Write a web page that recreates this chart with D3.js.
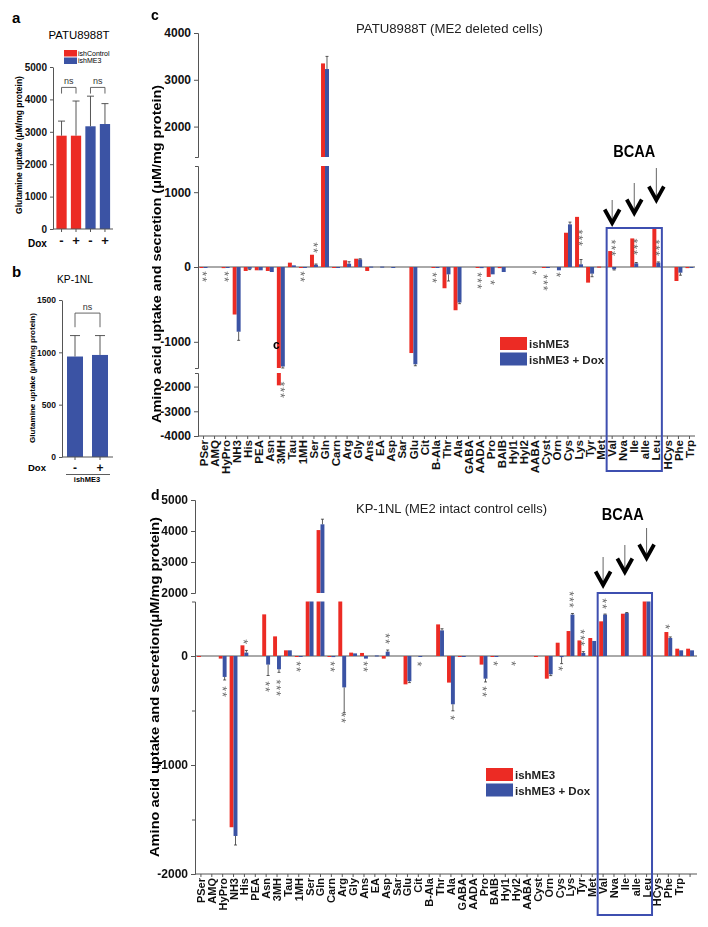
<!DOCTYPE html>
<html>
<head>
<meta charset="utf-8">
<script src="https://cdn.jsdelivr.net/npm/d3@7"></script>
<style>
body { margin: 0; background: #fff; }
svg text { font-family: "Liberation Sans", Arial, sans-serif; }
</style>
</head>
<body>
<svg id="fig" width="708" height="927"></svg>
<script>
// ---- panel a : glutamine uptake PATU8988T
var aGroups = ["ishControl", "ishControl", "ishME3", "ishME3"];
var aDox = ["-", "+", "-", "+"];
var aValues = [2880, 2880, 3170, 3240];
var aErrors = [450, 1070, 930, 630];
var aTicks = [0, 1000, 2000, 3000, 4000, 5000];

// ---- panel b : glutamine uptake KP-1NL
var bDox = ["-", "+"];
var bValues = [960, 975];
var bErrors = [200, 185];
var bTicks = [0, 500, 1000, 1500];

// ---- panels c / d : amino acids
var aminoAcids = ["PSer","AMQ","HyPro","NH3","His","PEA","Asn","3MH","Tau","1MH","Ser","Gln","Carn","Arg","Gly","Ans","EA","Asp","Sar","Glu","Cit","B-Ala","Thr","Ala","GABA","AADA","Pro","BAIB","Hyl1","Hyl2","AABA","Cyst","Orn","Cys","Lys","Tyr","Met","Val","Nva","Ile","alle","Leu","HCys","Phe","Trp"];

var cME3    = [-10,0,-15,-635,-53,-44,-53,-1950,58,-10,164,3350,-5,89,111,-53,0,0,0,-1150,0,-5,-284,-578,0,-10,-133,-15,0,0,0,-10,0,458,670,-209,5,213,0,382,0,520,0,-187,-15];
var cME3Dox = [-5,0,-10,-865,-25,-44,-67,-1330,22,-5,30,3230,-5,44,102,5,5,-5,0,-1300,0,-10,-98,-475,0,-15,-98,-67,0,0,0,-10,-44,570,36,-89,0,-31,0,49,0,58,0,-76,-5];
var cErrDox = [0,0,0,115,10,0,0,20,0,0,10,270,0,26,8,0,0,0,0,20,0,0,89,15,0,0,0,0,0,0,0,0,0,30,64,41,0,9,0,11,0,10,0,34,0];
var cTicks = [[2000, 3000, 4000], [-1000, 0, 1000], [-4000, -3000, -2000]];
var cStars = [
  ["PSer","b","**",-133], ["HyPro","b","**",-133], ["3MH","b","***",-2140], ["1MH","c","**",-133],
  ["Ser","b","**",253], ["B-Ala","c","**",-147], ["AADA","c","***",-187], ["Pro","b","*",-213],
  ["AABA","c","*",-80], ["Cyst","c","***",-213], ["Orn","b","*",-107], ["Lys","b","***",387],
  ["Val","b","***",253], ["Ile","b","***",267], ["Leu","b","***",253]
];

var dCats = aminoAcids.concat([""]);
var dME3    = [-5,0,-24,-1571,98,0,382,180,52,-5,1500,4030,-5,1500,31,28,0,-24,0,-260,0,0,290,-244,-5,0,-79,-5,0,0,0,-5,-208,122,229,143,165,318,0,388,0,520,0,220,67,67];
var dME3Dox = [0,0,-192,-1651,31,0,-79,-122,52,-5,1500,4216,-10,-288,24,-24,5,40,0,-232,-5,0,235,-443,-5,0,-208,-5,0,0,0,0,-168,-10,380,28,138,380,0,394,0,520,0,165,52,52];
var dErrDox = [0,0,28,83,20,0,100,28,0,0,0,165,0,232,0,0,0,15,0,12,0,0,15,60,0,0,30,0,0,0,0,0,12,60,10,12,0,5,0,5,0,0,0,10,0,0];
var dTicks = [[2000, 3000, 4000, 5000], [-2000, -1000, 0]];
var dMinor = [-1500, -500];
var dStars = [
  ["HyPro","b","**",-330], ["His","b","*",128], ["Asn","b","**",-284], ["3MH","b","***",-294],
  ["1MH","c","**",-101], ["Carn","b","**",-101], ["Arg","b","**",-569], ["Ans","b","**",-101],
  ["Asp","b","**",156], ["Cit","b","*",-76], ["Ala","b","*",-569], ["Pro","b","**",-330],
  ["BAIB","b","*",-73], ["Hyl2","r","*",-73], ["Cys","b","*",-119], ["Lys","b","***",514],
  ["Tyr","b","***",165], ["Val","b","**",477], ["Phe","c","*",266]
];

var bcaa = ["Val", "Ile", "Leu"];
var seriesNames = ["ishME3", "ishME3 + Dox"];

var RED = "#ec2b24", BLUE = "#3b53a4", AX = "#555", STAR = "#666", BOX = "#3e4fb0";
var svg = d3.select("#fig");

function styleAxis(sel, fs) {
  sel.select(".domain").attr("stroke", AX);
  sel.selectAll(".tick line").attr("stroke", AX);
  sel.selectAll(".tick text").attr("fill", "#111").attr("font-weight", "bold").attr("font-size", fs)
    .attr("font-family", "'Liberation Sans', Arial, sans-serif");
}

function errLine(g, x, y0, y1, cap) {
  g.append("line").attr("x1", x).attr("x2", x).attr("y1", y0).attr("y2", y1)
    .attr("stroke", "#444").attr("stroke-width", 0.9);
  if (cap) g.append("line").attr("x1", x - cap).attr("x2", x + cap).attr("y1", y1).attr("y2", y1)
    .attr("stroke", "#444").attr("stroke-width", 0.9);
}

// ================= panel a
var ga = svg.append("g");
var aX = d3.scaleBand().domain(d3.range(aValues.length)).range([53.5, 113]).paddingInner(0.29).paddingOuter(0.2);
var aY = d3.scaleLinear().domain([0, 5000]).range([229, 67]);
var aColor = d3.scaleOrdinal().domain(["ishControl", "ishME3"]).range([RED, BLUE]);

ga.append("text").attr("x", 12).attr("y", 23).attr("font-size", 15).attr("font-weight", "bold").text("a");
ga.append("text").attr("x", 79).attr("y", 39).attr("font-size", 11).attr("text-anchor", "middle")
  .attr("textLength", 61).attr("lengthAdjust", "spacingAndGlyphs").text("PATU8988T");

aColor.domain().forEach(function (k, i) {
  ga.append("rect").attr("x", 64).attr("y", 50 + i * 7.5).attr("width", 13).attr("height", 6.5).attr("fill", aColor(k));
  ga.append("text").attr("x", 78).attr("y", 55.8 + i * 7.5).attr("font-size", 7).text(k);
});

ga.selectAll("rect.bar").data(aValues).join("rect").attr("class", "bar")
  .attr("x", function (d, i) { return aX(i); }).attr("width", aX.bandwidth())
  .attr("y", function (d) { return aY(d); }).attr("height", function (d) { return aY(0) - aY(d); })
  .attr("fill", function (d, i) { return aColor(aGroups[i]); });
aValues.forEach(function (v, i) {
  errLine(ga, aX(i) + aX.bandwidth() / 2, aY(v), aY(v + aErrors[i]), 3.5);
});

ga.append("g").attr("transform", "translate(53,0)")
  .call(d3.axisLeft(aY).tickValues(aTicks).tickSize(3).tickSizeOuter(0).tickFormat(String))
  .call(styleAxis, 10);
var aXa = ga.append("g").attr("transform", "translate(0,229)")
  .call(d3.axisBottom(aX).tickSize(3).tickSizeOuter(0).tickFormat(function (i) { return aDox[i]; }));
aXa.select(".domain").attr("d", "M53,0H113");
aXa.call(styleAxis, 13);
aXa.selectAll(".tick text").attr("y", 7);
ga.append("text").attr("x", 28).attr("y", 247).attr("font-size", 10).attr("font-weight", "bold").text("Dox");
ga.append("text").attr("transform", "translate(22,145) rotate(-90)").attr("text-anchor", "middle")
  .attr("font-size", 8.5).attr("font-weight", "bold").text("Glutamine uptake (\u03bcM/mg protein)");

[[0, 1], [2, 3]].forEach(function (p) {
  var x0 = aX(p[0]) + aX.bandwidth() / 2, x1 = aX(p[1]) + aX.bandwidth() / 2;
  ga.append("path").attr("d", "M" + x0 + "," + aY(4180) + "V" + aY(4370) + "H" + x1 + "V" + aY(4180))
    .attr("fill", "none").attr("stroke", AX).attr("stroke-width", 0.9);
  ga.append("text").attr("x", (x0 + x1) / 2).attr("y", aY(4480)).attr("text-anchor", "middle")
    .attr("font-size", 9).attr("fill", "#333").text("ns");
});

// ================= panel b
var gb = svg.append("g");
var bX = d3.scaleBand().domain(d3.range(bValues.length)).range([62, 113]).paddingInner(0.36).paddingOuter(0.2);
var bY = d3.scaleLinear().domain([0, 1500]).range([457, 300]);

gb.append("text").attr("x", 12).attr("y", 277).attr("font-size", 15).attr("font-weight", "bold").text("b");
gb.append("text").attr("x", 75).attr("y", 283).attr("font-size", 11).attr("text-anchor", "middle")
  .attr("textLength", 36).attr("lengthAdjust", "spacingAndGlyphs").text("KP-1NL");

gb.selectAll("rect.bar").data(bValues).join("rect").attr("class", "bar")
  .attr("x", function (d, i) { return bX(i); }).attr("width", bX.bandwidth())
  .attr("y", function (d) { return bY(d); }).attr("height", function (d) { return bY(0) - bY(d); })
  .attr("fill", BLUE);
bValues.forEach(function (v, i) {
  errLine(gb, bX(i) + bX.bandwidth() / 2, bY(v), bY(v + bErrors[i]), 5);
});
gb.append("g").attr("transform", "translate(62,0)")
  .call(d3.axisLeft(bY).tickValues(bTicks).tickSize(3).tickSizeOuter(0).tickFormat(String))
  .call(styleAxis, 8.5);
var bXa = gb.append("g").attr("transform", "translate(0,457)")
  .call(d3.axisBottom(bX).tickSize(3).tickSizeOuter(0).tickFormat(function (i) { return bDox[i]; }));
bXa.select(".domain").attr("d", "M62,0H113");
bXa.call(styleAxis, 12);
bXa.selectAll(".tick text").attr("y", 6);
gb.append("text").attr("x", 28).attr("y", 471).attr("font-size", 9.5).attr("font-weight", "bold").text("Dox");
gb.append("line").attr("x1", 66).attr("x2", 110).attr("y1", 474.5).attr("y2", 474.5).attr("stroke", "#333").attr("stroke-width", 0.8);
gb.append("text").attr("x", 87).attr("y", 482).attr("text-anchor", "middle").attr("font-size", 7.5).attr("font-weight", "bold").text("ishME3");
gb.append("text").attr("transform", "translate(35,378) rotate(-90)").attr("text-anchor", "middle")
  .attr("font-size", 8).attr("font-weight", "bold").text("Glutamine uptake (\u03bcM/mg protein)");
(function () {
  var x0 = bX(0) + bX.bandwidth() / 2, x1 = bX(1) + bX.bandwidth() / 2;
  gb.append("path").attr("d", "M" + x0 + "," + bY(1240) + "V" + bY(1375) + "H" + x1 + "V" + bY(1240))
    .attr("fill", "none").attr("stroke", AX).attr("stroke-width", 0.9);
  gb.append("text").attr("x", (x0 + x1) / 2).attr("y", bY(1400)).attr("text-anchor", "middle")
    .attr("font-size", 9).attr("fill", "#333").text("ns");
})();

// ================= panels c / d : broken-axis grouped bars
function brokenChart(cfg) {
  var g = svg.append("g");
  var x = d3.scaleBand().domain(cfg.cats).range(cfg.xr).paddingInner(0.28).paddingOuter(0.14);
  var segs = cfg.segs.map(function (s) { return d3.scaleLinear().domain(s.d).range(s.r); });
  var mid = segs[cfg.mid];
  var half = x.bandwidth() / 2;
  var axisX = cfg.axisX;
  var baseY = d3.max(cfg.segs, function (s) { return s.r[0]; });

  function yPos(v) {
    for (var k = 0; k < segs.length; k++) {
      var dm = segs[k].domain();
      if (v >= dm[0] && v <= dm[1]) return segs[k](v);
    }
    return mid(v);
  }
  function pieces(a, b) {
    var lo = Math.min(a, b), hi = Math.max(a, b), out = [];
    segs.forEach(function (sc) {
      var dm = sc.domain();
      var l = Math.max(lo, dm[0]), h = Math.min(hi, dm[1]);
      if (h > l) out.push([sc(h), sc(l)]);
    });
    return out;
  }
  function barX(cat, side) {
    if (side === "r") return x(cat) + half / 2;
    if (side === "b") return x(cat) + half * 1.5;
    return x(cat) + half;
  }

  // zero line
  g.append("line").attr("x1", axisX).attr("x2", cfg.xEnd).attr("y1", mid(0)).attr("y2", mid(0))
    .attr("stroke", AX).attr("stroke-width", 1);

  // bars
  var rects = [];
  [cfg.red, cfg.blue].forEach(function (vals, s) {
    vals.forEach(function (v, i) {
      if (!v) return;
      pieces(0, v).forEach(function (p) {
        rects.push({ x: x(cfg.cats[i]) + s * half, y: p[0], h: Math.max(p[1] - p[0], 1), c: s ? BLUE : RED });
      });
    });
  });
  g.selectAll("rect.bar").data(rects).join("rect").attr("class", "bar")
    .attr("x", function (d) { return d.x; }).attr("width", half)
    .attr("y", function (d) { return d.y; }).attr("height", function (d) { return d.h; })
    .attr("fill", function (d) { return d.c; });

  // error bars (blue series)
  cfg.err.forEach(function (e, i) {
    if (!e) return;
    var v = cfg.blue[i], end = v + (v < 0 ? -e : e), cx = barX(cfg.cats[i], "b");
    pieces(v, end).forEach(function (p) {
      g.append("line").attr("x1", cx).attr("x2", cx).attr("y1", p[0]).attr("y2", p[1])
        .attr("stroke", "#333").attr("stroke-width", 0.8);
    });
    var ye = yPos(end);
    g.append("line").attr("x1", cx - 1.5).attr("x2", cx + 1.5).attr("y1", ye).attr("y2", ye)
      .attr("stroke", "#333").attr("stroke-width", 0.8);
  });

  // y axis segments
  segs.forEach(function (sc, k) {
    g.append("g").attr("transform", "translate(" + axisX + ",0)")
      .call(d3.axisLeft(sc).tickValues(cfg.ticks[k]).tickSize(4).tickSizeOuter(3).tickFormat(String))
      .call(styleAxis, 12);
  });
  if (cfg.minor) {
    g.append("g").attr("transform", "translate(" + axisX + ",0)")
      .call(d3.axisLeft(mid).tickValues(cfg.minor).tickSize(3).tickFormat(""))
      .call(function (s) { s.select(".domain").remove(); s.selectAll("line").attr("stroke", AX); });
  }

  // x axis
  var xa = g.append("g").attr("transform", "translate(0," + baseY + ")")
    .call(d3.axisBottom(x).tickSize(3).tickSizeOuter(0));
  xa.select(".domain").attr("d", "M" + axisX + ",0H" + cfg.xEnd);
  xa.call(styleAxis, cfg.labelSize);
  xa.selectAll(".tick text").attr("transform", "rotate(-90)").attr("text-anchor", "end")
    .attr("x", -4).attr("y", 0).attr("dy", "0.36em");

  // significance stars (grey, rotated so they stack vertically)
  var sg = g.append("g").attr("opacity", 0.99);
  cfg.stars.forEach(function (s) {
    sg.append("text").attr("transform", "translate(" + barX(s[0], s[1]) + "," + yPos(s[3]) + ") rotate(90)")
      .attr("text-anchor", "middle").attr("dy", "0.57em").attr("font-size", 12.5)
      .attr("letter-spacing", 0.9).attr("fill", STAR).text(s[2]);
  });

  // BCAA box and arrows
  var bx0 = x(bcaa[0]) - x.step() * x.paddingInner() / 2;
  var bx1 = x(bcaa[bcaa.length - 1]) + x.bandwidth() + x.step() * x.paddingInner() / 2;
  g.append("rect").attr("x", bx0).attr("y", cfg.boxTop).attr("width", bx1 - bx0)
    .attr("height", cfg.boxBottom - cfg.boxTop).attr("fill", "none").attr("stroke", BOX).attr("stroke-width", 2);
  bcaa.forEach(function (c, k) {
    var cx = x(c) + half, tip = cfg.boxTop - cfg.arrowTip[k], top = tip - cfg.arrowLen[k];
    g.append("line").attr("x1", cx).attr("x2", cx).attr("y1", top).attr("y2", tip)
      .attr("stroke", "#555").attr("stroke-width", 0.9);
    g.append("path").attr("d", "M" + (cx - 7.5) + "," + (tip - 13.5) + "L" + cx + "," + tip + "L" + (cx + 7.5) + "," + (tip - 13.5))
      .attr("fill", "none").attr("stroke", "#000").attr("stroke-width", 3.8).attr("stroke-linejoin", "miter");
  });
  g.append("text").attr("x", (bx0 + bx1) / 2 + cfg.bcaaDx).attr("y", cfg.bcaaY).attr("text-anchor", "middle")
    .attr("font-size", 17).attr("font-weight", "bold").attr("textLength", 42).attr("lengthAdjust", "spacingAndGlyphs")
    .text("BCAA");

  // legend
  seriesNames.forEach(function (n, k) {
    g.append("rect").attr("x", cfg.legX).attr("y", cfg.legY + k * 15.5).attr("width", 27).attr("height", 13)
      .attr("fill", k ? BLUE : RED);
    g.append("text").attr("x", cfg.legX + 29).attr("y", cfg.legY + 11 + k * 15.5).attr("font-size", 11.5)
      .attr("font-weight", "bold").attr("fill", "#222").text(n);
  });

  // titles
  g.append("text").attr("x", cfg.label[0]).attr("y", cfg.label[1]).attr("font-size", 14).attr("font-weight", "bold").text(cfg.label[2]);
  g.append("text").attr("x", cfg.title[0]).attr("y", cfg.title[1]).attr("font-size", 12).attr("fill", "#222")
    .attr("textLength", cfg.title[3]).attr("lengthAdjust", "spacingAndGlyphs").text(cfg.title[2]);
  g.append("text").attr("transform", "translate(" + cfg.yTitle[0] + "," + cfg.yTitle[1] + ") rotate(-90)")
    .attr("text-anchor", "middle").attr("font-size", 13.5).attr("font-weight", "bold")
    .attr("textLength", cfg.yTitle[3]).attr("lengthAdjust", "spacingAndGlyphs").text(cfg.yTitle[2]);
  return { g: g, x: x, yPos: yPos };
}

var pc = brokenChart({
  cats: aminoAcids, red: cME3, blue: cME3Dox, err: cErrDox, ticks: cTicks, stars: cStars,
  xr: [198, 695], axisX: 198, xEnd: 695, mid: 1, labelSize: 11.5,
  segs: [{ d: [1350, 4000], r: [157, 33] }, { d: [-1350, 1350], r: [368, 166] }, { d: [-4000, -1450], r: [436, 373] }],
  boxTop: 228, boxBottom: 471, arrowTip: [5, 15, 28], arrowLen: [23, 30, 32], bcaaDx: 0, bcaaY: 157,
  legX: 500, legY: 337,
  label: [151, 20, "c"], title: [356, 33, "PATU8988T (ME2 deleted cells)", 187],
  yTitle: [161, 254, "Amino acid uptake and secretion (\u03bcM/mg protein)", 338]
});
pc.g.append("text").attr("x", 273).attr("y", 349).attr("font-size", 12).attr("font-weight", "bold").text("c");

var pd = brokenChart({
  cats: dCats, red: dME3, blue: dME3Dox, err: dErrDox, ticks: dTicks, stars: dStars, minor: dMinor,
  xr: [195.5, 695.5], axisX: 195, xEnd: 697, mid: 1, labelSize: 11,
  segs: [{ d: [2000, 5000], r: [593, 500] }, { d: [-2000, 500], r: [874, 601.5] }],
  boxTop: 593, boxBottom: 915, arrowTip: [8, 21, 35], arrowLen: [28, 27, 30], bcaaDx: -2, bcaaY: 520,
  legX: 486, legY: 768,
  label: [151, 500, "d"], title: [356, 513, "KP-1NL  (ME2 intact control cells)", 191],
  yTitle: [159, 687, "Amino acid uptake and secretion(\u03bcM/mg protein)", 340]
});
</script>
</body>
</html>
